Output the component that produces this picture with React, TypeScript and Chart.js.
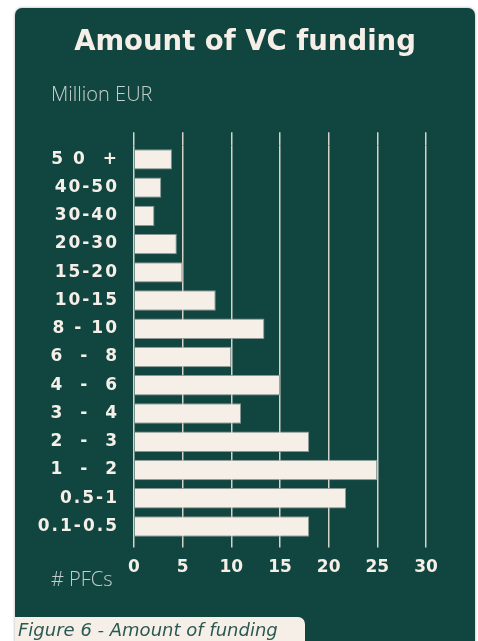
import React, { useEffect, useRef } from 'react';
import { Chart, registerables } from 'chart.js';

Chart.register(...registerables);

const categories = ['5 0  +', '40-50', '30-40', '20-30', '15-20', '10-15', '8 - 10', '6  -  8', '4  -  6', '3  -  4', '2  -  3', '1  -  2', '0.5-1', '0.1-0.5'];
const pfcCounts = [3.9, 2.8, 2.1, 4.4, 5, 8.4, 13.4, 10, 15, 11, 18, 25, 21.8, 18];
const xTickValues = [0, 5, 10, 15, 20, 25, 30];

const BG = '#114540';
const CREAM = '#f6efe8';
const GRID = '#d6d1c9';
const MUTED = 'rgba(226,232,228,0.85)';

const spacingPlugin = {
  id: 'ySpacing',
  afterDatasetsDraw(chart: any) {
    chart.ctx.letterSpacing = '2px';
  },
  afterDraw(chart: any) {
    chart.ctx.letterSpacing = '0px';
  },
};

export default function App() {
  const ref = useRef<HTMLCanvasElement | null>(null);

  useEffect(() => {
    if (!ref.current) return;
    const setTicks = (s: any) => {
      s.ticks = xTickValues.map((v) => ({ value: v }));
    };
    const chart = new Chart(ref.current, {
      type: 'bar',
      data: {
        labels: categories,
        datasets: [
          {
            data: pfcCounts,
            backgroundColor: CREAM,
            borderColor: 'rgba(150,160,155,0.9)',
            borderWidth: 1,
            categoryPercentage: 1,
            barPercentage: 0.72,
          },
        ],
      },
      options: {
        indexAxis: 'y',
        responsive: false,
        animation: false,
        layout: { padding: { top: 10, right: 49, bottom: 12, left: 0 } },
        plugins: {
          legend: { display: false },
          tooltip: { enabled: false },
          title: { display: false },
        },
        scales: {
          x: {
            type: 'linear',
            position: 'bottom',
            min: 0,
            max: 30,
            afterBuildTicks: setTicks,
            grid: { color: GRID, lineWidth: 1.5, tickLength: 7, drawTicks: true },
            border: { display: false },
            ticks: {
              color: CREAM,
              padding: 10,
              font: { family: 'DejaVu Sans', size: 17, weight: 'bold' },
            },
          },
          xTop: {
            axis: 'x',
            type: 'linear',
            position: 'top',
            min: 0,
            max: 30,
            afterBuildTicks: setTicks,
            grid: { color: GRID, lineWidth: 1.5, tickLength: 13, drawOnChartArea: false },
            border: { display: false },
            ticks: { display: false },
          },
          y: {
            type: 'category',
            grid: { display: false, drawTicks: false },
            border: { display: false },
            ticks: {
              color: CREAM,
              padding: 15,
              z: 1,
              font: { family: 'DejaVu Sans', size: 17, weight: 'bold' },
            },
            afterFit: (s: any) => {
              s.width = 119;
            },
          },
        },
      } as any,
      plugins: [spacingPlugin],
    });
    return () => chart.destroy();
  }, []);

  return (
    <div
      style={{
        position: 'fixed',
        left: 15,
        top: 8,
        width: 460,
        height: 640,
        background: BG,
        borderRadius: 7,
        boxShadow: '0 0 3px rgba(0,0,0,0.35)',
        overflow: 'hidden',
        fontFamily: '"Open Sans", sans-serif',
      }}
    >
      <div
        style={{
          position: 'absolute',
          top: 14,
          left: 0,
          width: 460,
          textAlign: 'center',
          color: CREAM,
          fontFamily: '"DejaVu Sans", sans-serif',
          fontWeight: 700,
          fontSize: 27.5,
          lineHeight: '36px',
        }}
      >
        Amount of VC funding
      </div>
      <div
        style={{
          position: 'absolute',
          top: 74,
          left: 36,
          color: MUTED,
          fontWeight: 300,
          fontSize: 20,
          lineHeight: '24px',
        }}
      >
        Million EUR
      </div>
      <canvas
        ref={ref}
        width={460}
        height={480}
        style={{ position: 'absolute', left: 0, top: 112, width: 460, height: 480 }}
      />
      <div
        style={{
          position: 'absolute',
          top: 559,
          left: 36,
          color: MUTED,
          fontWeight: 300,
          fontSize: 20,
          lineHeight: '24px',
        }}
      >
        # PFCs
      </div>
      <div
        style={{
          position: 'absolute',
          top: 609,
          left: 0,
          width: 290,
          height: 40,
          background: CREAM,
          borderTopRightRadius: 7,
          color: '#2b5852',
          fontFamily: '"DejaVu Sans", sans-serif',
          fontStyle: 'italic',
          fontSize: 18,
          lineHeight: '26px',
          paddingLeft: 3,
          boxSizing: 'border-box',
          whiteSpace: 'nowrap',
        }}
      >
        Figure 6 - Amount of funding
      </div>
    </div>
  );
}
